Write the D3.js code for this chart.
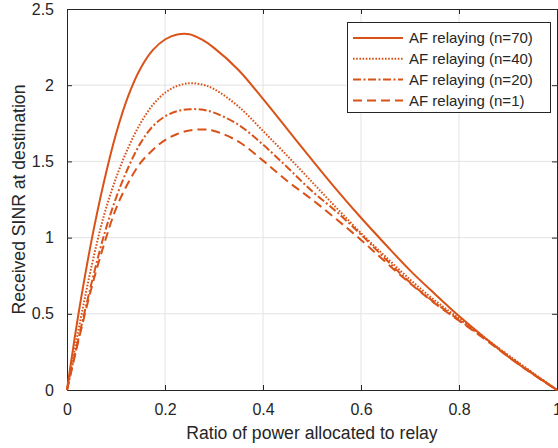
<!DOCTYPE html>
<html>
<head>
<meta charset="utf-8">
<script src="https://cdn.jsdelivr.net/npm/d3@7"></script>
<style>
  body { margin: 0; background: #fff; }
  text { font-family: "Liberation Sans", Arial, Helvetica, sans-serif; fill: #262626; }
</style>
</head>
<body>
<script>
// Ratio of power allocated to the relay (x axis samples).
var ratio = [0, 0.01, 0.025, 0.05, 0.075, 0.1, 0.125, 0.15, 0.175, 0.2, 0.225, 0.25, 0.275, 0.3,
             0.35, 0.4, 0.45, 0.5, 0.55, 0.6, 0.65, 0.7, 0.75, 0.8, 0.85, 0.9, 0.95, 1];

// Received SINR, one array per relay count.
var sinrN70 = [0, 0.22, 0.53, 0.98, 1.36, 1.68, 1.93, 2.11, 2.23, 2.30, 2.333, 2.335, 2.30, 2.245,
               2.10, 1.91, 1.71, 1.51, 1.315, 1.13, 0.955, 0.785, 0.632, 0.485, 0.35, 0.22, 0.107, 0];
var sinrN40 = [0, 0.17, 0.42, 0.81, 1.14, 1.39, 1.59, 1.75, 1.87, 1.95, 1.995, 2.013, 2.005, 1.975,
               1.86, 1.70, 1.535, 1.365, 1.195, 1.03, 0.875, 0.725, 0.59, 0.47, 0.35, 0.23, 0.115, 0];
var sinrN20 = [0, 0.145, 0.36, 0.70, 1.01, 1.26, 1.46, 1.62, 1.73, 1.795, 1.83, 1.842, 1.84, 1.82,
               1.74, 1.61, 1.46, 1.305, 1.17, 1.02, 0.86, 0.705, 0.575, 0.46, 0.345, 0.225, 0.11, 0];
var sinrN1  = [0, 0.14, 0.345, 0.67, 0.95, 1.19, 1.36, 1.49, 1.575, 1.64, 1.68, 1.703, 1.71, 1.70,
               1.63, 1.505, 1.37, 1.25, 1.12, 0.985, 0.84, 0.70, 0.57, 0.455, 0.34, 0.22, 0.105, 0];

var seriesNames = ['AF relaying (n=70)', 'AF relaying (n=40)', 'AF relaying (n=20)', 'AF relaying (n=1)'];
var xTicks = [0, 0.2, 0.4, 0.6, 0.8, 1];
var yTicks = [0, 0.5, 1, 1.5, 2, 2.5];

var WIDTH  = 558;
var HEIGHT = 448;
var LEFT = 67, RIGHT = 557, TOP = 9, BOTTOM = 390;
var COLOR = '#d95319';
var AXIS = '#262626';

var svg = d3.select('body')
            .append('svg')
            .attr('width', WIDTH)
            .attr('height', HEIGHT);

var x = d3.scaleLinear().domain([0, 1]).range([LEFT, RIGHT]);
var y = d3.scaleLinear().domain([0, 2.5]).range([BOTTOM, TOP]);

// =====
// Grid
// =====
svg.append('g').selectAll('line')
   .data(xTicks.slice(1, -1))
   .enter().append('line')
   .attr('x1', function(d) { return x(d); })
   .attr('x2', function(d) { return x(d); })
   .attr('y1', TOP).attr('y2', BOTTOM)
   .attr('stroke', '#e3e3e3').attr('stroke-width', 1);

svg.append('g').selectAll('line')
   .data(yTicks.slice(1, -1))
   .enter().append('line')
   .attr('y1', function(d) { return y(d); })
   .attr('y2', function(d) { return y(d); })
   .attr('x1', LEFT).attr('x2', RIGHT)
   .attr('stroke', '#e3e3e3').attr('stroke-width', 1);

// =====
// Axes (box with inner ticks on all four sides)
// =====
var tickFmt = function(d) { return d3.format('')(d); };

var gx = svg.append('g')
            .attr('transform', 'translate(0,' + BOTTOM + ')')
            .call(d3.axisBottom(x).tickValues(xTicks).tickFormat(tickFmt).tickSizeInner(-5).tickSizeOuter(0).tickPadding(14));
var gy = svg.append('g')
            .attr('transform', 'translate(' + LEFT + ',0)')
            .call(d3.axisLeft(y).tickValues(yTicks).tickFormat(tickFmt).tickSizeInner(-5).tickSizeOuter(0).tickPadding(13));
var gt = svg.append('g')
            .attr('transform', 'translate(0,' + TOP + ')')
            .call(d3.axisTop(x).tickValues(xTicks).tickFormat('').tickSizeInner(-5).tickSizeOuter(0));
var gr = svg.append('g')
            .attr('transform', 'translate(' + RIGHT + ',0)')
            .call(d3.axisRight(y).tickValues(yTicks).tickFormat('').tickSizeInner(-5).tickSizeOuter(0));

[gx, gy, gt, gr].forEach(function(g) {
  g.selectAll('.domain').attr('stroke', AXIS).attr('stroke-width', 1);
  g.selectAll('.tick line').attr('stroke', AXIS);
  g.selectAll('.tick text').attr('fill', AXIS).style('font-size', '16px')
   .style('font-family', '"Liberation Sans", Arial, sans-serif');
});

// Axis titles
svg.append('text')
   .attr('x', (LEFT + RIGHT) / 2)
   .attr('y', 439)
   .attr('text-anchor', 'middle')
   .style('font-size', '17.6px')
   .text('Ratio of power allocated to relay');

svg.append('text')
   .attr('transform', 'translate(25,' + ((TOP + BOTTOM) / 2) + ') rotate(-90)')
   .attr('text-anchor', 'middle')
   .style('font-size', '17.6px')
   .text('Received SINR at destination');

// =====
// Curves
// =====
var series = [sinrN70, sinrN40, sinrN20, sinrN1];
var dashes = ['none', '1.6,1.6', '8,2.5,2,2.5', '9,5'];

var line = d3.line()
             .x(function(d) { return x(d[0]); })
             .y(function(d) { return y(d[1]); })
             .curve(d3.curveCatmullRom.alpha(0.5));

svg.append('g').selectAll('path')
   .data(series)
   .enter().append('path')
   .attr('d', function(values) { return line(d3.zip(ratio, values)); })
   .attr('fill', 'none')
   .attr('stroke', COLOR)
   .attr('stroke-width', 2)
   .attr('stroke-dasharray', function(d, i) { return dashes[i]; });

// =====
// Legend
// =====
var legend = svg.append('g');
legend.append('rect')
      .attr('x', 347.5).attr('y', 22.5)
      .attr('width', 203).attr('height', 90)
      .attr('fill', '#fff').attr('stroke', AXIS).attr('stroke-width', 1);

var rows = legend.selectAll('g.row')
                 .data(seriesNames)
                 .enter().append('g')
                 .attr('class', 'row')
                 .attr('transform', function(d, i) { return 'translate(0,' + (38 + i * 20.8) + ')'; });

rows.append('line')
    .attr('x1', 353).attr('x2', 403)
    .attr('stroke', COLOR).attr('stroke-width', 2)
    .attr('stroke-dasharray', function(d, i) { return dashes[i]; });

rows.append('text')
    .attr('x', 409)
    .attr('dy', '0.35em')
    .style('font-size', '15px')
    .text(function(d) { return d; });
</script>
</body>
</html>
